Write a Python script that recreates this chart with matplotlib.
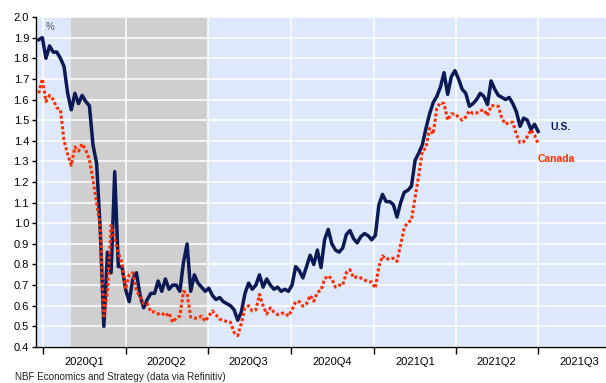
import numpy as np
import pandas as pd
import matplotlib
matplotlib.use("Agg")
import matplotlib.pyplot as plt

plt.rcParams['font.family'] = ['Liberation Sans', 'DejaVu Sans']

# 10-year breakeven inflation, sampled every 4 days
dates = pd.date_range('2019-12-27', periods=139, freq='4D')

us = [1.89, 1.90, 1.80, 1.86, 1.83, 1.83, 1.80, 1.76, 1.63, 1.55,
      1.63, 1.58, 1.62, 1.59, 1.57, 1.38, 1.29, 0.97, 0.50, 0.86,
      0.76, 1.25, 0.79, 0.79, 0.68, 0.62, 0.73, 0.76, 0.65, 0.59,
      0.63, 0.66, 0.66, 0.72, 0.67, 0.73, 0.68, 0.70, 0.70, 0.67,
      0.81, 0.90, 0.67, 0.75, 0.71, 0.69, 0.67, 0.685, 0.65, 0.63,
      0.64, 0.62, 0.61, 0.60, 0.58, 0.53, 0.57, 0.66, 0.71, 0.68,
      0.70, 0.75, 0.69, 0.73, 0.70, 0.68, 0.69, 0.67, 0.68, 0.67,
      0.70, 0.79, 0.77, 0.735, 0.79, 0.845, 0.80, 0.87, 0.785, 0.92,
      0.97, 0.90, 0.87, 0.86, 0.88, 0.945, 0.965, 0.925, 0.905, 0.935,
      0.95, 0.94, 0.92, 0.94, 1.09, 1.14, 1.105, 1.105, 1.09, 1.03,
      1.10, 1.15, 1.16, 1.18, 1.305, 1.34, 1.38, 1.46, 1.53, 1.585,
      1.615, 1.66, 1.73, 1.625, 1.71, 1.74, 1.70, 1.65, 1.63, 1.567,
      1.58, 1.60, 1.63, 1.615, 1.575, 1.69, 1.65, 1.62, 1.61, 1.60,
      1.61, 1.58, 1.54, 1.47, 1.51, 1.50, 1.455, 1.48, 1.445]

canada = [1.63, 1.70, 1.59, 1.62, 1.60, 1.56, 1.55, 1.40, 1.335, 1.28,
          1.37, 1.35, 1.385, 1.355, 1.31, 1.21, 1.10, 0.98, 0.55, 0.67,
          0.99, 0.925, 0.855, 0.81, 0.68, 0.75, 0.76, 0.67, 0.645, 0.61,
          0.61, 0.57, 0.57, 0.56, 0.565, 0.55, 0.565, 0.52, 0.54, 0.55,
          0.67, 0.66, 0.545, 0.54, 0.54, 0.55, 0.525, 0.55, 0.575, 0.555,
          0.535, 0.53, 0.523, 0.52, 0.47, 0.455, 0.515, 0.59, 0.60, 0.575,
          0.58, 0.655, 0.60, 0.56, 0.59, 0.57, 0.557, 0.563, 0.565, 0.55,
          0.58, 0.62, 0.62, 0.598, 0.61, 0.65, 0.622, 0.665, 0.675, 0.73,
          0.745, 0.73, 0.69, 0.70, 0.70, 0.76, 0.775, 0.735, 0.74, 0.735,
          0.725, 0.717, 0.715, 0.685, 0.79, 0.842, 0.825, 0.83, 0.83, 0.815,
          0.895, 0.978, 1.004, 1.015, 1.125, 1.23, 1.35, 1.365, 1.46, 1.432,
          1.558, 1.585, 1.58, 1.50, 1.53, 1.53, 1.515, 1.50, 1.515, 1.545,
          1.532, 1.535, 1.545, 1.55, 1.522, 1.57, 1.57, 1.567, 1.508, 1.48,
          1.49, 1.49, 1.43, 1.39, 1.395, 1.42, 1.453, 1.428, 1.385]

quarters = ['2020Q1', '2020Q2', '2020Q3', '2020Q4', '2021Q1', '2021Q2', '2021Q3']
recession = ('2020-02-01', '2020-07-01')

navy = '#0b1a55'
red = '#ff2d00'

fig = plt.figure(figsize=(6.06, 3.83), dpi=100)
ax = fig.add_axes([0.0594, 0.094, 0.9406, 0.8616])
ax.set_facecolor('#dde9fb')

ax.axvspan(pd.Timestamp(recession[0]), pd.Timestamp(recession[1]),
           color='#cfcfcf', zorder=0, lw=0)

ax.plot(dates, us, color=navy, lw=2.5, zorder=3, solid_joinstyle='round')
ax.plot(dates, canada, color=red, lw=2.2, ls=(0, (1, 0.75)), zorder=4)

# axis limits and grid
ax.set_xlim(pd.Timestamp('2019-12-24'), pd.Timestamp('2021-09-14'))
ax.set_ylim(0.4, 2.0)
yt = np.arange(0.4, 2.01, 0.1)
ax.set_yticks(yt)
ax.set_yticklabels([f'{v:.1f}' for v in yt])

qstarts = pd.date_range('2020-01-01', '2021-07-01', freq='QS')
ax.set_xticks(qstarts)
ax.set_xticklabels([])
mids = [s + pd.Timedelta(days=45) for s in qstarts]
ax.set_xticks(mids, minor=True)
ax.set_xticklabels(quarters, minor=True)
ax.tick_params(axis='x', which='minor', length=0, labelsize=8, pad=7)
ax.tick_params(axis='x', which='major', length=5, width=1, direction='out')
ax.tick_params(axis='y', length=3, width=1, labelsize=8, pad=2)

ax.grid(True, which='major', color='white', lw=1.1, zorder=1)
ax.set_axisbelow(True)
for side in ('top', 'right'):
    ax.spines[side].set_visible(False)
for side in ('left', 'bottom'):
    ax.spines[side].set_color('black')
    ax.spines[side].set_linewidth(1)

ax.text(pd.Timestamp('2020-01-04'), 1.95, '%', fontsize=7, color='#555555',
        va='center', ha='left')
ax.text(pd.Timestamp('2021-07-14'), 1.465, 'U.S.', fontsize=7.5, color=navy,
        fontweight='bold', va='center', ha='left')
ax.text(pd.Timestamp('2021-06-30'), 1.31, 'Canada', fontsize=7.5, color=red,
        fontweight='bold', va='center', ha='left')

fig.text(0.025, 0.016, 'NBF Economics and Strategy (data via Refinitiv)',
         fontsize=7.1, color='#222222', va='center', ha='left')

fig.savefig('out.png', dpi=100)
